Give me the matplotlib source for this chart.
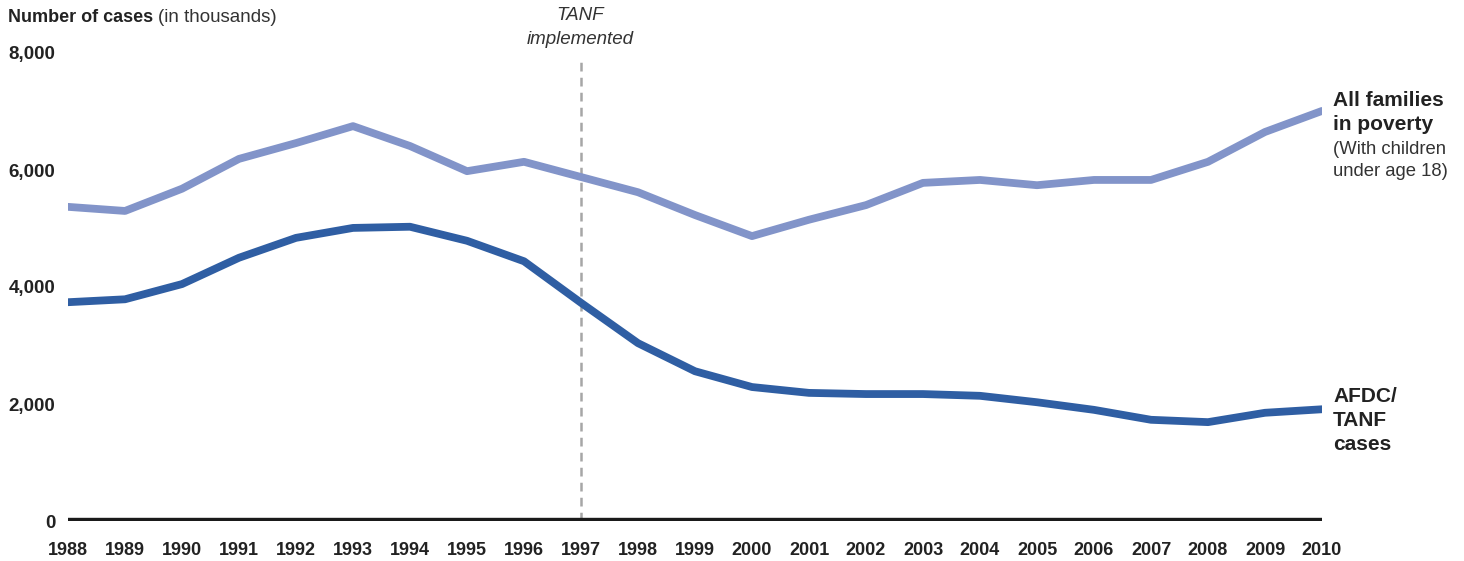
import matplotlib.pyplot as plt

plt.rcParams['font.family'] = ['Liberation Sans', 'DejaVu Sans']

years = list(range(1988, 2011))
all_families = [5370, 5300, 5680, 6190, 6460, 6750, 6410, 5980, 6140, 5880, 5620, 5230,
                4870, 5150, 5400, 5780, 5830, 5740, 5830, 5830, 6140, 6650, 7010]
afdc_tanf = [3740, 3790, 4050, 4500, 4840, 5010, 5030, 4790, 4440, 3730, 3040, 2560,
             2290, 2190, 2170, 2170, 2140, 2030, 1900, 1730, 1690, 1850, 1910]
yticks = [0, 2000, 4000, 6000, 8000]

fig = plt.figure(figsize=(14.64, 5.61), dpi=100)
ax = fig.add_axes([68 / 1464, 40 / 561, (1322 - 68) / 1464, (521 - 53) / 561])

ax.axvline(1997, ymin=0, ymax=0.98, color='#a6a6a6', lw=1.8, ls=(0, (3.5, 2.5)), zorder=1)
ax.plot(years, all_families, color='#8294c9', lw=5.6, solid_capstyle='round', zorder=3)
ax.plot(years, afdc_tanf, color='#2f5ea3', lw=5.6, solid_capstyle='round', zorder=3)
ax.axhline(0, color='#1a1a1a', lw=4.6, zorder=4)

ax.set_xlim(1988, 2010)
ax.set_ylim(0, 8000)
ax.set_xticks(years)
ax.set_yticks(yticks)
ax.set_yticklabels([f'{v:,}' for v in yticks], fontsize=13.5, fontweight='bold', color='#222222')
ax.set_xticklabels([str(y) for y in years], fontsize=13, fontweight='bold', color='#222222')
ax.tick_params(axis='y', length=0, pad=9)
ax.tick_params(axis='x', length=0, pad=15)
for s in ax.spines.values():
    s.set_visible(False)

fig.text(8 / 1464, 1 - 17 / 561, 'Number of cases', fontsize=13, fontweight='bold', color='#222222', va='center')
fig.text(158 / 1464, 1 - 17 / 561, '(in thousands)', fontsize=13.5, color='#333333', va='center')

fig.text(580 / 1464, 1 - 16 / 561, 'TANF', fontsize=13.5, style='italic', color='#333333', ha='center', va='center')
fig.text(580 / 1464, 1 - 39 / 561, 'implemented', fontsize=13.5, style='italic', color='#333333', ha='center', va='center')

x_lab = 1333 / 1464
fig.text(x_lab, 1 - 101 / 561, 'All families', fontsize=15, fontweight='bold', color='#222222', va='center')
fig.text(x_lab, 1 - 125 / 561, 'in poverty', fontsize=15, fontweight='bold', color='#222222', va='center')
fig.text(x_lab, 1 - 150 / 561, '(With children', fontsize=13.3, color='#333333', va='center')
fig.text(x_lab, 1 - 171 / 561, 'under age 18)', fontsize=13.3, color='#333333', va='center')
fig.text(x_lab, 1 - 397 / 561, 'AFDC/', fontsize=15, fontweight='bold', color='#222222', va='center')
fig.text(x_lab, 1 - 421 / 561, 'TANF', fontsize=15, fontweight='bold', color='#222222', va='center')
fig.text(x_lab, 1 - 445 / 561, 'cases', fontsize=15, fontweight='bold', color='#222222', va='center')

fig.savefig('out.png', dpi=100, facecolor='white')
